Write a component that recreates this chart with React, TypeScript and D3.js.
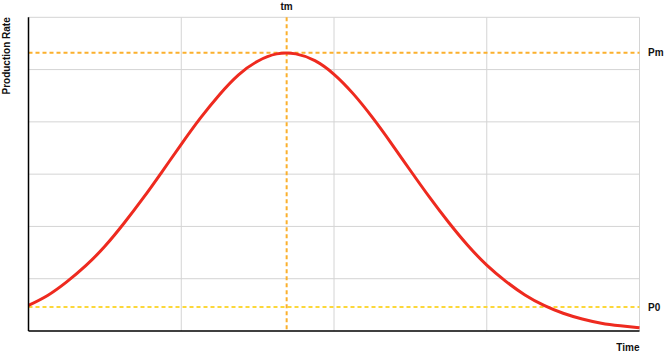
import { useEffect, useRef } from "react"
import * as d3 from "d3"

// curve readings (time in grid units, rate in grid units)
const tiempos = [
  0, 0.125, 0.25, 0.375, 0.5, 0.625, 0.75, 0.875, 1, 1.125, 1.25, 1.375, 1.5, 1.625, 1.75, 1.875,
  2, 2.125, 2.25, 2.375, 2.5, 2.625, 2.75, 2.875, 3, 3.125, 3.25, 3.375, 3.5, 3.625, 3.75, 3.875, 4,
]
const tasas = [
  0.49, 0.68, 0.94, 1.25, 1.62, 2.06, 2.54, 3.05, 3.57, 4.07, 4.52, 4.9, 5.16, 5.3, 5.3, 5.17,
  4.91, 4.54, 4.09, 3.59, 3.07, 2.56, 2.08, 1.64, 1.26, 0.95, 0.69, 0.49, 0.34, 0.23, 0.15, 0.1, 0.06,
]

const xTicks = [0, 1, 2, 3, 4]
const yTicks = [0, 1, 2, 3, 4, 5, 6]

const tm = 1.69
const Pm = 5.32
const P0 = 0.46

export default function App() {
  const svgRef = useRef<SVGSVGElement>(null)

  useEffect(() => {
    document.body.style.margin = "0"
    if (!svgRef.current) return
    const svg = d3.select(svgRef.current)
    svg.selectAll("*").remove()

    const x = d3.scaleLinear().domain([0, 4]).range([28.5, 639.5])
    const y = d3.scaleLinear().domain([0, 6]).range([331, 17.3])
    const font = "'Liberation Sans', Arial, Helvetica, sans-serif"

    // grid
    const g = svg.append("g")
    xTicks.slice(1).forEach((t) => {
      g.append("line")
        .attr("x1", x(t)).attr("x2", x(t))
        .attr("y1", y(6)).attr("y2", y(0))
        .attr("stroke", "#d4d4d4").attr("stroke-width", 1)
    })
    yTicks.slice(1).forEach((t) => {
      g.append("line")
        .attr("x1", x(0)).attr("x2", x(4))
        .attr("y1", y(t)).attr("y2", y(t))
        .attr("stroke", "#d4d4d4").attr("stroke-width", 1)
    })

    // reference lines
    g.append("line")
      .attr("x1", x(0)).attr("x2", x(4))
      .attr("y1", y(Pm)).attr("y2", y(Pm))
      .attr("stroke", "#fbb02d").attr("stroke-width", 2).attr("stroke-dasharray", "4,3")
    g.append("line")
      .attr("x1", x(0)).attr("x2", x(4))
      .attr("y1", y(P0)).attr("y2", y(P0))
      .attr("stroke", "#fcd83a").attr("stroke-width", 2).attr("stroke-dasharray", "4,3")
    g.append("line")
      .attr("x1", x(tm)).attr("x2", x(tm))
      .attr("y1", y(6)).attr("y2", y(0))
      .attr("stroke", "#fbb02d").attr("stroke-width", 2).attr("stroke-dasharray", "4,3")

    // curve
    const puntos = tiempos.map((t, i) => [t, tasas[i]] as [number, number])
    const linea = d3.line<[number, number]>()
      .x((d) => x(d[0]))
      .y((d) => y(d[1]))
      .curve(d3.curveNatural)
    g.append("path")
      .datum(puntos)
      .attr("d", linea)
      .attr("fill", "none")
      .attr("stroke", "#ee2a1f")
      .attr("stroke-width", 3)

    // axes
    g.append("line")
      .attr("x1", x(0)).attr("x2", x(0))
      .attr("y1", y(6)).attr("y2", y(0))
      .attr("stroke", "#000").attr("stroke-width", 1.5)
    g.append("line")
      .attr("x1", x(0)).attr("x2", x(4))
      .attr("y1", y(0)).attr("y2", y(0))
      .attr("stroke", "#000").attr("stroke-width", 1.5)

    // labels
    const label = (tx: number, ty: number, txt: string, anchor: string) =>
      svg.append("text")
        .attr("x", tx).attr("y", ty)
        .attr("text-anchor", anchor)
        .style("font-family", font)
        .style("font-size", "10px")
        .style("font-weight", "bold")
        .attr("fill", "#111")
        .text(txt)

    label(x(tm), 9.5, "tm", "middle")
    label(648, y(Pm) + 3.6, "Pm", "start")
    label(648, y(P0) + 3.6, "P0", "start")
    label(639.5, 351, "Time", "end")
    label(0, 0, "Production Rate", "end")
      .attr("transform", `translate(10,${y(6)}) rotate(-90)`)
  }, [])

  return <svg ref={svgRef} width={664} height={353} style={{ display: "block" }} />
}
